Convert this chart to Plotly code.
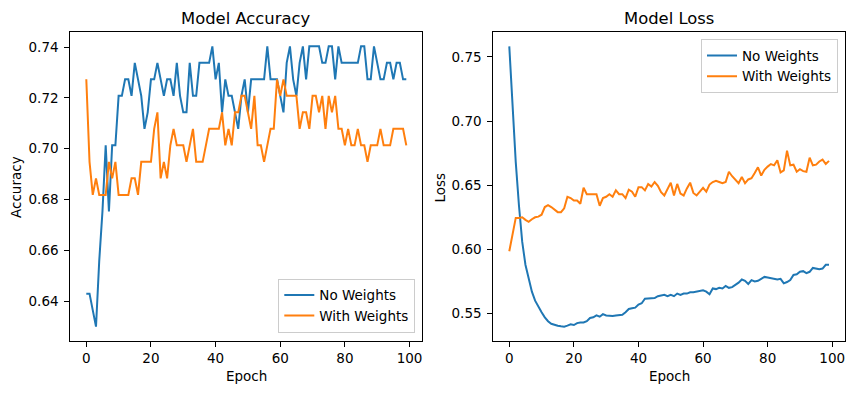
import plotly.graph_objects as go

epochs = list(range(100))

acc_no_weights = [
    0.6429, 0.6429, 0.6364, 0.6299, 0.6558, 0.6753, 0.7013, 0.6753, 0.7013, 0.7013,
    0.7208, 0.7208, 0.7273, 0.7273, 0.7208, 0.7338, 0.7273, 0.7208, 0.7078, 0.7143,
    0.7273, 0.7273, 0.7338, 0.7273, 0.7208, 0.7273, 0.7273, 0.7208, 0.7338, 0.7208,
    0.7143, 0.7143, 0.7338, 0.7208, 0.7208, 0.7338, 0.7338, 0.7338, 0.7338, 0.7403,
    0.7273, 0.7338, 0.7143, 0.7273, 0.7208, 0.7208, 0.7143, 0.7078, 0.7208, 0.7273,
    0.7143, 0.7273, 0.7273, 0.7273, 0.7273, 0.7273, 0.7403, 0.7273, 0.7273, 0.7273,
    0.7208, 0.7143, 0.7338, 0.7403, 0.7273, 0.7208, 0.7338, 0.7403, 0.7273, 0.7403,
    0.7403, 0.7403, 0.7403, 0.7338, 0.7338, 0.7403, 0.7403, 0.7273, 0.7403, 0.7338,
    0.7338, 0.7338, 0.7338, 0.7338, 0.7338, 0.7403, 0.7403, 0.7273, 0.7273, 0.7403,
    0.7338, 0.7273, 0.7273, 0.7338, 0.7338, 0.7273, 0.7338, 0.7338, 0.7273, 0.7273,
]

acc_with_weights = [
    0.7273, 0.6948, 0.6818, 0.6883, 0.6818, 0.6818, 0.6818, 0.6948, 0.6883, 0.6948,
    0.6818, 0.6818, 0.6818, 0.6818, 0.6883, 0.6883, 0.6818, 0.6948, 0.6948, 0.6948,
    0.6948, 0.7078, 0.7143, 0.6883, 0.6948, 0.6883, 0.7013, 0.7078, 0.7013, 0.7013,
    0.7013, 0.6948, 0.7013, 0.7078, 0.6948, 0.6948, 0.6948, 0.7013, 0.7078, 0.7078,
    0.7078, 0.7078, 0.7143, 0.7013, 0.7078, 0.7013, 0.7143, 0.7143, 0.7208, 0.7208,
    0.7143, 0.7078, 0.7208, 0.7013, 0.7013, 0.6948, 0.7013, 0.7078, 0.7078, 0.7273,
    0.7208, 0.7273, 0.7208, 0.7208, 0.7208, 0.7208, 0.7078, 0.7143, 0.7143, 0.7078,
    0.7208, 0.7208, 0.7143, 0.7208, 0.7078, 0.7208, 0.7143, 0.7208, 0.7078, 0.7078,
    0.7013, 0.7078, 0.7013, 0.7013, 0.7078, 0.7013, 0.7013, 0.6948, 0.7013, 0.7013,
    0.7013, 0.7078, 0.7013, 0.7013, 0.7013, 0.7078, 0.7078, 0.7078, 0.7078, 0.7013,
]

loss_no_weights = [
    0.7583, 0.7100, 0.6680, 0.6340, 0.6060, 0.5880, 0.5770, 0.5670, 0.5600, 0.5550,
    0.5510, 0.5470, 0.5440, 0.5420, 0.5410, 0.5405, 0.5400, 0.5397, 0.5405, 0.5415,
    0.5410, 0.5425, 0.5430, 0.5430, 0.5440, 0.5465, 0.5470, 0.5485, 0.5475, 0.5495,
    0.5485, 0.5480, 0.5480, 0.5485, 0.5485, 0.5490, 0.5510, 0.5535, 0.5540, 0.5545,
    0.5570, 0.5580, 0.5615, 0.5615, 0.5620, 0.5620, 0.5635, 0.5640, 0.5645, 0.5635,
    0.5645, 0.5635, 0.5655, 0.5645, 0.5655, 0.5655, 0.5665, 0.5665, 0.5670, 0.5680,
    0.5680, 0.5670, 0.5650, 0.5695, 0.5690, 0.5700, 0.5695, 0.5715, 0.5700, 0.5705,
    0.5720, 0.5740, 0.5765, 0.5755, 0.5730, 0.5760, 0.5750, 0.5755, 0.5770, 0.5785,
    0.5780, 0.5775, 0.5775, 0.5765, 0.5770, 0.5735, 0.5745, 0.5760, 0.5800, 0.5805,
    0.5825, 0.5830, 0.5815, 0.5825, 0.5855, 0.5850, 0.5845, 0.5850, 0.5880, 0.5880,
]

loss_with_weights = [
    0.5985, 0.6120, 0.6245, 0.6245, 0.6250, 0.6230, 0.6215, 0.6235, 0.6250, 0.6255,
    0.6270, 0.6330, 0.6345, 0.6330, 0.6310, 0.6290, 0.6290, 0.6320, 0.6410, 0.6400,
    0.6380, 0.6380, 0.6355, 0.6480, 0.6430, 0.6430, 0.6430, 0.6430, 0.6340, 0.6400,
    0.6410, 0.6430, 0.6410, 0.6460, 0.6430, 0.6430, 0.6400, 0.6465, 0.6450, 0.6410,
    0.6485, 0.6485, 0.6460, 0.6510, 0.6490, 0.6525, 0.6495, 0.6445, 0.6420, 0.6470,
    0.6520, 0.6420, 0.6510, 0.6435, 0.6420, 0.6475, 0.6520, 0.6440, 0.6420, 0.6450,
    0.6480, 0.6450, 0.6505, 0.6525, 0.6535, 0.6525, 0.6515, 0.6525, 0.6605, 0.6570,
    0.6540, 0.6515, 0.6565, 0.6515, 0.6545, 0.6555, 0.6595, 0.6640, 0.6575, 0.6620,
    0.6645, 0.6665, 0.6655, 0.6695, 0.6600, 0.6615, 0.6770, 0.6655, 0.6660, 0.6605,
    0.6625, 0.6610, 0.6605, 0.6715, 0.6655, 0.6660, 0.6685, 0.6700, 0.6665, 0.6690,
]

x_ticks = [0, 20, 40, 60, 80, 100]
acc_ticks = [0.64, 0.66, 0.68, 0.70, 0.72, 0.74]
loss_ticks = [0.55, 0.60, 0.65, 0.70, 0.75]

BLUE = "#1f77b4"
ORANGE = "#ff7f0e"
FONT = "DejaVu Sans"
W, H = 855, 393


def auto_range(*series, margin=0.05):
    lo = min(min(s) for s in series)
    hi = max(max(s) for s in series)
    pad = (hi - lo) * margin
    return [lo - pad, hi + pad]


xr = auto_range(epochs)

fig = go.Figure()
fig.add_trace(go.Scatter(x=epochs, y=acc_no_weights, mode="lines", name="No Weights",
                         line=dict(color=BLUE, width=2), xaxis="x", yaxis="y", legend="legend"))
fig.add_trace(go.Scatter(x=epochs, y=acc_with_weights, mode="lines", name="With Weights",
                         line=dict(color=ORANGE, width=2), xaxis="x", yaxis="y", legend="legend"))
fig.add_trace(go.Scatter(x=epochs, y=loss_no_weights, mode="lines", name="No Weights",
                         line=dict(color=BLUE, width=2), xaxis="x2", yaxis="y2", legend="legend2"))
fig.add_trace(go.Scatter(x=epochs, y=loss_with_weights, mode="lines", name="With Weights",
                         line=dict(color=ORANGE, width=2), xaxis="x2", yaxis="y2", legend="legend2"))

axis_common = dict(showline=True, linecolor="black", linewidth=1, mirror=True,
                   ticks="outside", ticklen=5, tickwidth=1, tickcolor="black",
                   showgrid=False, zeroline=False,
                   tickfont=dict(family=FONT, size=13.5, color="black"))

y_dom = [1 - 340.7 / H, 1 - 32.3 / H]
fig.update_layout(
    width=W, height=H,
    margin=dict(l=0, r=0, t=0, b=0),
    paper_bgcolor="white", plot_bgcolor="white",
    font=dict(family=FONT, color="black"),
    xaxis=dict(domain=[70.3 / W, 422.3 / W], range=xr, tickvals=x_ticks, anchor="y", **axis_common),
    yaxis=dict(domain=y_dom, range=auto_range(acc_no_weights, acc_with_weights),
               tickvals=acc_ticks, tickformat=".2f", anchor="x", ticklabelstandoff=3, **axis_common),
    xaxis2=dict(domain=[493.3 / W, 845 / W], range=xr, tickvals=x_ticks, anchor="y2", **axis_common),
    yaxis2=dict(domain=y_dom, range=auto_range(loss_no_weights, loss_with_weights),
                tickvals=loss_ticks, tickformat=".2f", anchor="x2", ticklabelstandoff=3, **axis_common),
    legend=dict(x=415.3 / W, y=1 - 332.7 / H, xanchor="right", yanchor="bottom",
                bgcolor="rgba(255,255,255,0.8)", bordercolor="#cccccc", borderwidth=1,
                font=dict(family=FONT, size=13.5, color="black"), itemwidth=30,
                tracegroupgap=0),
    legend2=dict(x=838 / W, y=1 - 39.3 / H, xanchor="right", yanchor="top",
                 bgcolor="rgba(255,255,255,0.8)", bordercolor="#cccccc", borderwidth=1,
                 font=dict(family=FONT, size=13.5, color="black"), itemwidth=30,
                 tracegroupgap=0),
    showlegend=True,
)

annots = [
    dict(text="Model Accuracy", x=246.3 / W, y=1 - 18.5 / H, font=dict(size=16.4)),
    dict(text="Model Loss", x=669.2 / W, y=1 - 18.5 / H, font=dict(size=16.4)),
    dict(text="Epoch", x=246.3 / W, y=1 - 375.5 / H, font=dict(size=13.5)),
    dict(text="Epoch", x=669.2 / W, y=1 - 375.5 / H, font=dict(size=13.5)),
    dict(text="Accuracy", x=16 / W, y=1 - 187 / H, textangle=-90, font=dict(size=13.5)),
    dict(text="Loss", x=439.5 / W, y=1 - 188 / H, textangle=-90, font=dict(size=13.5)),
]
for a in annots:
    fig.add_annotation(xref="paper", yref="paper", showarrow=False,
                       xanchor="center", yanchor="middle",
                       font=dict(family=FONT, color="black", size=a["font"]["size"]),
                       text=a["text"], x=a["x"], y=a["y"], textangle=a.get("textangle", 0))

fig.write_html("out.html", config={"displayModeBar": False},
               post_script="document.body.style.margin='0';document.body.style.overflow='hidden';")
